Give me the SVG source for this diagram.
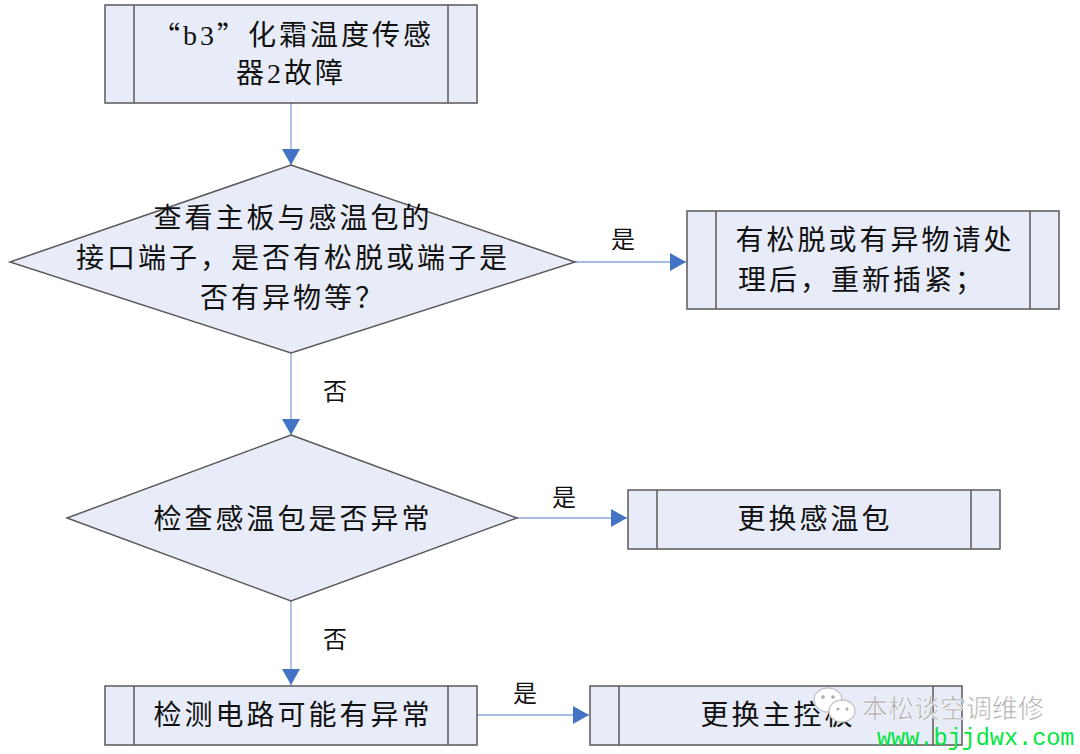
<svg xmlns="http://www.w3.org/2000/svg" width="1080" height="754" viewBox="0 0 1080 754">
<style>
.box{fill:#e8ecf8;stroke:#5a5a5a;stroke-width:1.5}
.inner{stroke:#5a5a5a;stroke-width:1.5;fill:none}
.t{font-family:"Liberation Serif","Noto Sans CJK SC",serif;font-size:28px;letter-spacing:3px;fill:#111;text-anchor:middle;dominant-baseline:central}
.q{font-family:"Noto Sans CJK SC",sans-serif}
.lbl{font-family:"Liberation Serif","Noto Sans CJK SC",serif;font-size:24px;fill:#111;text-anchor:middle;dominant-baseline:central}
.conn{stroke:#86a4d8;stroke-width:1.3;fill:none;marker-end:url(#ah)}
</style>
<defs>
<marker id="ah" markerUnits="userSpaceOnUse" markerWidth="18" markerHeight="18" refX="16" refY="9" orient="auto">
<path d="M0,0 L16,9 L0,18 Z" fill="#4472c4"/>
</marker>
</defs>
<rect width="1080" height="754" fill="#ffffff"/>
<g id="connectors">
<line class="conn" x1="291" y1="103" x2="291" y2="165"/>
<line class="conn" x1="575" y1="262" x2="686" y2="262"/>
<text class="lbl" x="623" y="240">是</text>
<line class="conn" x1="291" y1="353" x2="291" y2="435"/>
<text class="lbl" x="335" y="392">否</text>
<line class="conn" x1="517" y1="518" x2="627" y2="518"/>
<text class="lbl" x="564" y="498">是</text>
<line class="conn" x1="291" y1="601" x2="291" y2="685"/>
<text class="lbl" x="335" y="640">否</text>
<line class="conn" x1="477" y1="715" x2="589" y2="715"/>
<text class="lbl" x="525" y="694">是</text>
</g>
<g id="n1">
<rect class="box" x="105" y="5" width="372" height="98"/>
<line class="inner" x1="134" y1="5" x2="134" y2="103"/>
<line class="inner" x1="448" y1="5" x2="448" y2="103"/>
<text class="t" x="293" y="35"><tspan class="q">“</tspan>b3<tspan class="q">”</tspan>化霜温度传感</text>
<text class="t" x="291" y="73">器2故障</text>
</g>
<g id="d1">
<polygon class="box" points="291,165 575,262 291,353 10,262"/>
<text class="t" x="293" y="218">查看主板与感温包的</text>
<text class="t" x="293" y="258">接口端子，是否有松脱或端子是</text>
<text class="t" x="293" y="298">否有异物等？</text>
</g>
<g id="n2">
<rect class="box" x="687" y="211" width="372" height="98"/>
<line class="inner" x1="716" y1="211" x2="716" y2="309"/>
<line class="inner" x1="1030" y1="211" x2="1030" y2="309"/>
<text class="t" x="875" y="240">有松脱或有异物请处</text>
<text class="t" x="862" y="280">理后，重新插紧；</text>
</g>
<g id="d2">
<polygon class="box" points="291,435 517,518 291,601 67,518"/>
<text class="t" x="293" y="519">检查感温包是否异常</text>
</g>
<g id="n3">
<rect class="box" x="628" y="490" width="372" height="59"/>
<line class="inner" x1="657" y1="490" x2="657" y2="549"/>
<line class="inner" x1="971" y1="490" x2="971" y2="549"/>
<text class="t" x="815" y="519">更换感温包</text>
</g>
<g id="n4">
<rect class="box" x="105" y="686" width="372" height="59"/>
<line class="inner" x1="134" y1="686" x2="134" y2="745"/>
<line class="inner" x1="448" y1="686" x2="448" y2="745"/>
<text class="t" x="293" y="715">检测电路可能有异常</text>
</g>
<g id="n5">
<rect class="box" x="590" y="686" width="372" height="59"/>
<line class="inner" x1="619" y1="686" x2="619" y2="745"/>
<line class="inner" x1="933" y1="686" x2="933" y2="745"/>
<text class="t" x="778" y="715">更换主控板</text>
</g>
<g id="watermark">
<ellipse cx="828" cy="700" rx="14" ry="12" fill="#ffffff" stroke="#c8c8c8" stroke-width="1.5"/>
<ellipse cx="842" cy="711" rx="13" ry="11" fill="#ffffff" stroke="#c8c8c8" stroke-width="1.5"/>
<circle cx="823" cy="697" r="1.8" fill="#aaa"/>
<circle cx="833" cy="697" r="1.8" fill="#aaa"/>
<circle cx="838" cy="709" r="1.5" fill="#aaa"/>
<circle cx="847" cy="709" r="1.5" fill="#aaa"/>
<text x="862" y="706" font-family="Noto Sans CJK SC,sans-serif" font-size="26" fill="#a8a8a8" stroke="#ffffff" stroke-width="0.6" dominant-baseline="central">本松谈空调维修</text>
<text x="877" y="738" font-family="Liberation Mono,monospace" font-size="23.5" fill="#00e640" dominant-baseline="central">www.bjjdwx.com</text>
</g>
</svg>
